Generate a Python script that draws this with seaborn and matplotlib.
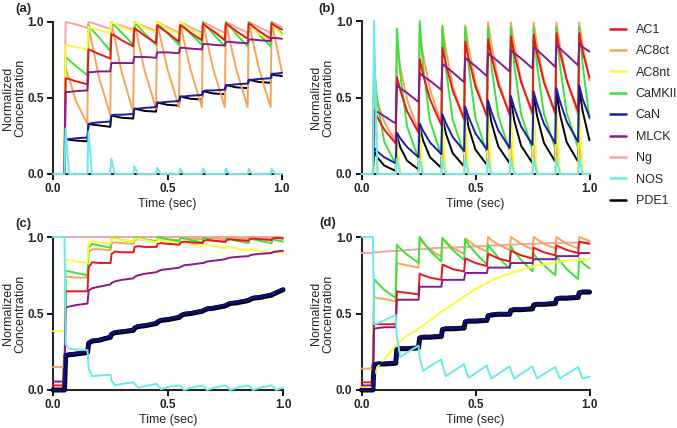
import numpy as np
import pandas as pd
import matplotlib

matplotlib.use('Agg')
import matplotlib.pyplot as plt
from matplotlib.lines import Line2D
from matplotlib.ticker import FormatStrFormatter
import seaborn as sns

# stimulus pulses (sec)
pulse_times = [0.05, 0.15, 0.25, 0.35, 0.45, 0.55, 0.65, 0.75, 0.85, 0.95]
species = ['AC1', 'AC8ct', 'AC8nt', 'CaMKII', 'CaN', 'MLCK', 'Ng', 'NOS', 'PDE1']

# each series: start value, then per pulse (value just after pulse, +15 ms,
# +45 ms, value at next pulse); last pulse has no "next pulse" value
# ---- panel (a)
a_ac1 = [0.0, 0.63, 0.625, 0.61, 0.59, 0.82, 0.81, 0.79, 0.76, 0.92, 0.91, 0.88, 0.84,
         0.96, 0.945, 0.91, 0.86, 0.98, 0.96, 0.93, 0.87, 0.98, 0.965, 0.93, 0.88,
         0.99, 0.97, 0.94, 0.88, 0.99, 0.975, 0.94, 0.89, 0.99, 0.975, 0.94, 0.89,
         0.99, 0.975, 0.95]
a_ac8ct = [0.0, 0.70, 0.63, 0.48, 0.33, 0.97, 0.86, 0.64, 0.39, 1.0, 0.89, 0.67, 0.41,
           1.0, 0.89, 0.68, 0.43, 1.0, 0.89, 0.69, 0.44, 1.0, 0.89, 0.69, 0.44,
           1.0, 0.89, 0.69, 0.44, 1.0, 0.89, 0.69, 0.44, 1.0, 0.89, 0.69, 0.44,
           1.0, 0.89, 0.67]
a_ac8nt = [0.0, 0.85, 0.845, 0.835, 0.82, 0.97, 0.96, 0.945, 0.93, 1.0, 0.99, 0.965, 0.94,
           1.0, 0.99, 0.96, 0.93, 1.0, 0.985, 0.955, 0.92, 1.0, 0.985, 0.95, 0.91,
           0.99, 0.975, 0.94, 0.90, 0.99, 0.975, 0.935, 0.89, 0.98, 0.965, 0.925, 0.88,
           0.98, 0.965, 0.91]
a_camkii = [0.0, 0.77, 0.75, 0.71, 0.65, 0.98, 0.95, 0.90, 0.81, 1.0, 0.975, 0.93, 0.85,
            1.0, 0.975, 0.925, 0.85, 1.0, 0.975, 0.925, 0.85, 1.0, 0.975, 0.925, 0.85,
            1.0, 0.975, 0.92, 0.84, 1.0, 0.975, 0.92, 0.84, 1.0, 0.975, 0.92, 0.84,
            1.0, 0.975, 0.92]
a_can = [0.0, 0.23, 0.23, 0.235, 0.24, 0.33, 0.335, 0.34, 0.345, 0.385, 0.39, 0.39, 0.395,
         0.43, 0.43, 0.435, 0.44, 0.47, 0.47, 0.475, 0.48, 0.51, 0.51, 0.515, 0.52,
         0.545, 0.55, 0.55, 0.555, 0.585, 0.585, 0.59, 0.595, 0.62, 0.62, 0.625, 0.63,
         0.66, 0.66, 0.665]
a_mlck = [0.0, 0.54, 0.54, 0.545, 0.55, 0.67, 0.67, 0.675, 0.675, 0.73, 0.73, 0.73, 0.73,
          0.77, 0.77, 0.77, 0.765, 0.80, 0.80, 0.80, 0.795, 0.83, 0.83, 0.825, 0.82,
          0.855, 0.855, 0.85, 0.845, 0.87, 0.87, 0.865, 0.86, 0.885, 0.885, 0.88, 0.875,
          0.895, 0.895, 0.89]
a_ng = [0.0, 1.0, 0.995, 0.985, 0.96, 1.0, 0.995, 0.98, 0.955, 1.0, 0.99, 0.975, 0.95,
        1.0, 0.99, 0.97, 0.94, 1.0, 0.99, 0.965, 0.93, 1.0, 0.99, 0.965, 0.93,
        1.0, 0.99, 0.965, 0.93, 1.0, 0.99, 0.965, 0.93, 1.0, 0.99, 0.965, 0.93,
        1.0, 0.99, 0.965]
a_nos = [0.0, 0.30, 0.0, 0.0, 0.0, 0.28, 0.0, 0.0, 0.0, 0.10, 0.0, 0.0, 0.0,
         0.05, 0.0, 0.0, 0.0, 0.04, 0.0, 0.0, 0.0, 0.035, 0.0, 0.0, 0.0,
         0.035, 0.0, 0.0, 0.0, 0.035, 0.0, 0.0, 0.0, 0.035, 0.0, 0.0, 0.0,
         0.035, 0.0, 0.0]
a_pde1 = [0.0, 0.23, 0.225, 0.22, 0.215, 0.33, 0.325, 0.32, 0.31, 0.385, 0.38, 0.37, 0.365,
          0.43, 0.425, 0.415, 0.41, 0.47, 0.465, 0.455, 0.45, 0.51, 0.505, 0.495, 0.49,
          0.545, 0.54, 0.53, 0.525, 0.585, 0.58, 0.57, 0.565, 0.62, 0.615, 0.605, 0.60,
          0.655, 0.65, 0.645]

# ---- panel (b)
b_ac1 = [0.0, 0.42, 0.37, 0.29, 0.20, 0.635, 0.55, 0.41, 0.27, 0.75, 0.65, 0.49, 0.32,
         0.825, 0.72, 0.545, 0.36, 0.865, 0.755, 0.57, 0.38, 0.88, 0.77, 0.585, 0.39,
         0.90, 0.785, 0.60, 0.40, 0.91, 0.79, 0.60, 0.40, 0.92, 0.80, 0.615, 0.41,
         0.92, 0.80, 0.63]
b_ac8ct = [0.0, 0.56, 0.475, 0.34, 0.21, 0.84, 0.70, 0.485, 0.28, 0.93, 0.78, 0.555, 0.33,
           0.96, 0.81, 0.58, 0.35, 0.97, 0.825, 0.60, 0.37, 0.99, 0.845, 0.615, 0.38,
           0.99, 0.845, 0.615, 0.38, 0.99, 0.845, 0.615, 0.38, 0.99, 0.845, 0.615, 0.38,
           0.99, 0.845, 0.61]
b_ac8nt = [0.0, 0.08, 0.0, 0.0, 0.0, 0.24, 0.0, 0.0, 0.0, 0.30, 0.0, 0.0, 0.0,
           0.36, 0.0, 0.0, 0.0, 0.40, 0.0, 0.0, 0.0, 0.42, 0.0, 0.0, 0.0,
           0.43, 0.0, 0.0, 0.0, 0.44, 0.0, 0.0, 0.0, 0.45, 0.0, 0.0, 0.0,
           0.45, 0.0, 0.0]
b_camkii = [0.0, 0.70, 0.47, 0.21, 0.065, 0.95, 0.65, 0.31, 0.10, 1.0, 0.70, 0.35, 0.12,
            0.97, 0.69, 0.355, 0.13, 0.96, 0.70, 0.365, 0.14, 0.96, 0.705, 0.38, 0.15,
            0.96, 0.71, 0.39, 0.16, 0.96, 0.71, 0.395, 0.165, 0.96, 0.715, 0.40, 0.17,
            0.96, 0.715, 0.36]
b_can = [0.0, 0.17, 0.147, 0.109, 0.07, 0.27, 0.233, 0.176, 0.11, 0.33, 0.283, 0.207, 0.13,
         0.39, 0.333, 0.242, 0.15, 0.44, 0.372, 0.265, 0.16, 0.48, 0.404, 0.286, 0.17,
         0.51, 0.433, 0.311, 0.19, 0.54, 0.458, 0.329, 0.20, 0.56, 0.476, 0.343, 0.21,
         0.58, 0.49, 0.37]
b_mlck = [0.0, 0.42, 0.405, 0.378, 0.33, 0.58, 0.56, 0.53, 0.47, 0.66, 0.64, 0.61, 0.55,
          0.72, 0.70, 0.665, 0.60, 0.76, 0.74, 0.705, 0.64, 0.79, 0.77, 0.735, 0.67,
          0.81, 0.79, 0.755, 0.69, 0.83, 0.81, 0.77, 0.70, 0.84, 0.82, 0.78, 0.71,
          0.85, 0.83, 0.80]
b_ng = [0.0, 0.78, 0.0, 0.0, 0.0, 0.20, 0.0, 0.0, 0.0, 0.20, 0.0, 0.0, 0.0,
        0.20, 0.0, 0.0, 0.0, 0.20, 0.0, 0.0, 0.0, 0.20, 0.0, 0.0, 0.0,
        0.20, 0.0, 0.0, 0.0, 0.20, 0.0, 0.0, 0.0, 0.20, 0.0, 0.0, 0.0,
        0.20, 0.0, 0.0]
b_nos = [0.0, 1.0, 0.0, 0.0, 0.0, 0.10, 0.0, 0.0, 0.0, 0.10, 0.0, 0.0, 0.0,
         0.10, 0.0, 0.0, 0.0, 0.10, 0.0, 0.0, 0.0, 0.10, 0.0, 0.0, 0.0,
         0.10, 0.0, 0.0, 0.0, 0.10, 0.0, 0.0, 0.0, 0.10, 0.0, 0.0, 0.0,
         0.10, 0.0, 0.0]
b_pde1 = [0.0, 0.15, 0.107, 0.055, 0.02, 0.25, 0.175, 0.087, 0.03, 0.31, 0.22, 0.111, 0.04,
          0.37, 0.265, 0.136, 0.05, 0.42, 0.304, 0.159, 0.06, 0.46, 0.336, 0.18, 0.07,
          0.49, 0.35, 0.185, 0.07, 0.52, 0.38, 0.204, 0.08, 0.54, 0.393, 0.208, 0.08,
          0.56, 0.41, 0.22]

# ---- panel (c)
c_ac1 = [0.03, 0.645, 0.645, 0.645, 0.645, 0.80, 0.835, 0.83, 0.83, 0.89, 0.905, 0.90, 0.90,
         0.935, 0.94, 0.935, 0.935, 0.955, 0.96, 0.955, 0.95, 0.965, 0.97, 0.965, 0.96,
         0.975, 0.98, 0.975, 0.97, 0.98, 0.985, 0.98, 0.975, 0.985, 0.99, 0.985, 0.98,
         0.99, 0.995, 0.99]
c_ac8ct = [0.15, 0.74, 0.74, 0.735, 0.735, 0.90, 0.92, 0.92, 0.915, 0.96, 0.965, 0.96, 0.955,
           0.98, 0.985, 0.98, 0.975, 0.99, 0.99, 0.985, 0.98, 0.995, 0.995, 0.99, 0.985,
           0.995, 0.995, 0.99, 0.985, 1.0, 0.995, 0.99, 0.985, 1.0, 0.995, 0.99, 0.985,
           1.0, 0.995, 0.99]
c_ac8nt = [0.385, 0.85, 0.85, 0.84, 0.83, 0.96, 0.975, 0.965, 0.955, 0.99, 0.99, 0.98, 0.97,
           0.99, 0.99, 0.98, 0.965, 0.985, 0.98, 0.97, 0.955, 0.97, 0.965, 0.955, 0.94,
           0.955, 0.95, 0.94, 0.925, 0.94, 0.935, 0.925, 0.91, 0.925, 0.92, 0.91, 0.895,
           0.91, 0.905, 0.895]
c_camkii = [0.0, 0.78, 0.775, 0.765, 0.75, 0.93, 0.955, 0.945, 0.93, 0.99, 0.995, 0.98, 0.97,
            1.0, 0.995, 0.985, 0.97, 1.0, 0.995, 0.985, 0.97, 0.995, 0.99, 0.98, 0.965,
            0.995, 0.99, 0.975, 0.965, 0.99, 0.985, 0.975, 0.96, 0.99, 0.985, 0.975, 0.96,
            0.985, 0.98, 0.97]
c_can = [0.0, 0.23, 0.235, 0.24, 0.25, 0.31, 0.325, 0.33, 0.35, 0.37, 0.38, 0.385, 0.395,
         0.41, 0.42, 0.425, 0.44, 0.45, 0.46, 0.465, 0.48, 0.49, 0.50, 0.505, 0.52,
         0.525, 0.535, 0.54, 0.555, 0.56, 0.57, 0.575, 0.59, 0.595, 0.605, 0.61, 0.625,
         0.63, 0.64, 0.66]
c_mlck = [0.055, 0.54, 0.545, 0.555, 0.565, 0.65, 0.665, 0.675, 0.69, 0.70, 0.71, 0.72, 0.73,
          0.74, 0.75, 0.76, 0.77, 0.775, 0.785, 0.79, 0.80, 0.805, 0.815, 0.82, 0.83,
          0.83, 0.84, 0.845, 0.855, 0.86, 0.865, 0.87, 0.875, 0.88, 0.885, 0.89, 0.895,
          0.90, 0.905, 0.91]
c_ng = [1.0, 1.0, 1.0, 1.0, 1.0, 1.0, 1.0, 1.0, 1.0, 1.0, 1.0, 1.0, 1.0,
        1.0, 1.0, 1.0, 1.0, 1.0, 1.0, 1.0, 1.0, 1.0, 1.0, 1.0, 1.0,
        1.0, 1.0, 1.0, 1.0, 1.0, 1.0, 1.0, 1.0, 1.0, 1.0, 1.0, 1.0,
        1.0, 1.0, 1.0]
c_nos = [1.0, 0.30, 0.27, 0.265, 0.26, 0.14, 0.09, 0.095, 0.10, 0.06, 0.03, 0.04, 0.05,
         0.04, 0.015, 0.025, 0.04, 0.03, 0.005, 0.02, 0.03, 0.025, 0.0, 0.015, 0.03,
         0.025, 0.0, 0.015, 0.03, 0.025, 0.0, 0.015, 0.03, 0.025, 0.0, 0.015, 0.03,
         0.025, 0.0, 0.015]
c_pde1 = [0.0, 0.225, 0.23, 0.235, 0.245, 0.305, 0.32, 0.325, 0.345, 0.365, 0.375, 0.38, 0.39,
          0.405, 0.415, 0.42, 0.435, 0.445, 0.455, 0.46, 0.475, 0.485, 0.495, 0.50, 0.515,
          0.52, 0.53, 0.535, 0.55, 0.555, 0.565, 0.57, 0.585, 0.59, 0.60, 0.605, 0.62,
          0.625, 0.635, 0.655]

# ---- panel (d)
d_ac1 = [0.05, 0.43, 0.43, 0.43, 0.43, 0.645, 0.64, 0.635, 0.625, 0.76, 0.75, 0.735, 0.72,
         0.82, 0.81, 0.79, 0.775, 0.86, 0.85, 0.83, 0.81, 0.89, 0.88, 0.86, 0.84,
         0.91, 0.90, 0.88, 0.86, 0.93, 0.92, 0.90, 0.88, 0.945, 0.935, 0.915, 0.895,
         0.97, 0.965, 0.955]
d_ac8ct = [0.14, 0.61, 0.60, 0.595, 0.58, 0.83, 0.825, 0.815, 0.80, 0.98, 0.96, 0.92, 0.87,
           0.99, 0.97, 0.93, 0.89, 0.99, 0.975, 0.94, 0.905, 1.0, 0.98, 0.95, 0.915,
           1.0, 0.985, 0.955, 0.92, 1.0, 0.985, 0.955, 0.925, 1.0, 0.985, 0.955, 0.925,
           1.0, 0.99, 0.975]
d_ac8nt = [0.02, 0.10, 0.15, 0.20, 0.29, 0.30, 0.32, 0.355, 0.40, 0.405, 0.42, 0.455, 0.51,
           0.515, 0.53, 0.56, 0.61, 0.615, 0.63, 0.66, 0.70, 0.705, 0.715, 0.735, 0.76,
           0.765, 0.77, 0.785, 0.805, 0.81, 0.815, 0.82, 0.835, 0.835, 0.84, 0.845, 0.85,
           0.85, 0.852, 0.855]
d_camkii = [0.0, 0.725, 0.70, 0.655, 0.60, 0.95, 0.925, 0.885, 0.83, 1.0, 0.97, 0.91, 0.84,
            0.995, 0.965, 0.915, 0.85, 0.985, 0.95, 0.895, 0.82, 0.95, 0.92, 0.865, 0.795,
            0.94, 0.905, 0.85, 0.775, 0.89, 0.86, 0.815, 0.75, 0.875, 0.845, 0.79, 0.725,
            0.86, 0.83, 0.795]
d_can = [0.0, 0.17, 0.175, 0.175, 0.18, 0.27, 0.275, 0.275, 0.28, 0.345, 0.35, 0.35, 0.355,
         0.40, 0.405, 0.405, 0.41, 0.45, 0.455, 0.455, 0.46, 0.49, 0.495, 0.50, 0.50,
         0.525, 0.53, 0.53, 0.535, 0.56, 0.565, 0.565, 0.57, 0.60, 0.605, 0.605, 0.61,
         0.64, 0.645, 0.645]
d_mlck = [0.03, 0.40, 0.405, 0.41, 0.41, 0.59, 0.59, 0.59, 0.59, 0.675, 0.675, 0.675, 0.675,
          0.72, 0.72, 0.72, 0.72, 0.765, 0.765, 0.765, 0.765, 0.80, 0.80, 0.80, 0.80,
          0.83, 0.83, 0.83, 0.83, 0.855, 0.855, 0.855, 0.855, 0.875, 0.875, 0.875, 0.875,
          0.895, 0.895, 0.895]
d_ng = [0.895, 0.90, 0.90, 0.905, 0.91, 0.91, 0.91, 0.915, 0.92, 0.92, 0.92, 0.925, 0.93,
        0.93, 0.93, 0.93, 0.935, 0.935, 0.935, 0.94, 0.94, 0.94, 0.945, 0.945, 0.95,
        0.95, 0.95, 0.955, 0.955, 0.955, 0.955, 0.96, 0.96, 0.96, 0.96, 0.963, 0.963,
        0.963, 0.965, 0.965]
d_nos = [1.0, 0.43, 0.435, 0.455, 0.49, 0.35, 0.215, 0.245, 0.29, 0.22, 0.125, 0.155, 0.20,
         0.16, 0.09, 0.12, 0.17, 0.14, 0.08, 0.11, 0.16, 0.13, 0.075, 0.105, 0.155,
         0.13, 0.075, 0.105, 0.155, 0.13, 0.075, 0.105, 0.15, 0.13, 0.075, 0.105, 0.15,
         0.13, 0.075, 0.087]
d_pde1 = [0.0, 0.165, 0.17, 0.17, 0.175, 0.265, 0.27, 0.27, 0.275, 0.34, 0.345, 0.345, 0.35,
          0.395, 0.40, 0.40, 0.405, 0.445, 0.45, 0.45, 0.455, 0.485, 0.49, 0.495, 0.495,
          0.52, 0.525, 0.525, 0.53, 0.555, 0.56, 0.56, 0.565, 0.595, 0.60, 0.60, 0.605,
          0.635, 0.64, 0.64]

colors = {'AC1': '#e8171c', 'AC8ct': '#f5a45a', 'AC8nt': '#fbfb3c', 'CaMKII': '#3ee03e',
          'CaN': '#1c1ca6', 'MLCK': '#8a1a8a', 'Ng': '#f4a3a3', 'NOS': '#6aeaea',
          'PDE1': '#000000'}
draw_order = ['Ng', 'PDE1', 'AC8ct', 'CaMKII', 'AC8nt', 'AC1', 'MLCK', 'CaN', 'NOS']

panels = {
    'a': dict(zip(species, [a_ac1, a_ac8ct, a_ac8nt, a_camkii, a_can, a_mlck, a_ng, a_nos, a_pde1])),
    'b': dict(zip(species, [b_ac1, b_ac8ct, b_ac8nt, b_camkii, b_can, b_mlck, b_ng, b_nos, b_pde1])),
    'c': dict(zip(species, [c_ac1, c_ac8ct, c_ac8nt, c_camkii, c_can, c_mlck, c_ng, c_nos, c_pde1])),
    'd': dict(zip(species, [d_ac1, d_ac8ct, d_ac8nt, d_camkii, d_can, d_mlck, d_ng, d_nos, d_pde1])),
}

# time points that go with the value lists
times = [0.0]
for p in pulse_times:
    times += [p, p + 0.005, p + 0.02, p + 0.05]

rows = []
for key, series in panels.items():
    for name, vals in series.items():
        full = [vals[0]] + list(vals)
        for t, v in zip(times, full):
            rows.append((key, name, t, v))
df = pd.DataFrame(rows, columns=['panel', 'species', 'time', 'value'])

sns.set_style('ticks')
plt.rcParams['font.family'] = ['Liberation Sans', 'DejaVu Sans']

fig = plt.figure(figsize=(6.77, 4.28), dpi=100)
W, H = 677.0, 428.0
boxes = {
    'a': [53 / W, 1 - 174 / H, 229 / W, 152 / H],
    'b': [361.5 / W, 1 - 174 / H, 228 / W, 153 / H],
    'c': [53 / W, 1 - 390 / H, 230 / W, 153 / H],
    'd': [361.5 / W, 1 - 390 / H, 228 / W, 153 / H],
}
letters = {'a': (23, 9), 'b': (327, 9), 'c': (23, 224), 'd': (328, 223)}
# right edge of the two-line y label, in pixels
ylabel_right = {'a': 26, 'b': 334, 'c': 26, 'd': 334}

for key in ['a', 'b', 'c', 'd']:
    ax = fig.add_axes(boxes[key])
    sub = df[df['panel'] == key]
    thick = key in ('c', 'd')
    for name in draw_order:
        d = sub[sub['species'] == name]
        lw = 1.4
        color = colors[name]
        if thick and name == 'PDE1':
            lw = 3.6
        elif thick and name == 'CaN':
            lw = 2.2
            color = '#0c0c72'
        sns.lineplot(data=d, x='time', y='value', color=color, lw=lw, ax=ax,
                     estimator=None, sort=False, legend=False, clip_on=False)
    ax.set_xlim(0, 1.0)
    ax.set_ylim(0, 1.0)
    ax.set_xticks([0, 0.5, 1.0])
    ax.set_yticks([0, 0.5, 1.0])
    ax.xaxis.set_major_formatter(FormatStrFormatter('%.1f'))
    ax.yaxis.set_major_formatter(FormatStrFormatter('%.1f'))
    ax.tick_params(width=1.3, length=4, labelsize=8.5, pad=2.5, color='black')
    for lab in ax.get_xticklabels() + ax.get_yticklabels():
        lab.set_fontweight('bold')
    sns.despine(ax=ax)
    for s in ['left', 'bottom']:
        ax.spines[s].set_linewidth(1.5)
        ax.spines[s].set_zorder(1)
    ax.set_xlabel('Time (sec)', fontsize=9, labelpad=2)
    ax.set_ylabel('Normalized\nConcentration', fontsize=9, linespacing=1.0)
    x0 = boxes[key][0] * W
    ax.yaxis.set_label_coords((ylabel_right[key] - x0) / (boxes[key][2] * W), 0.5)
    lx, ly = letters[key]
    fig.text(lx / W, 1 - ly / H, '(%s)' % key, fontsize=9.5, fontweight='bold',
             ha='center', va='center')

handles = [Line2D([0], [0], color=colors[n], lw=1.8) for n in species]
fig.legend(handles, species, loc='upper left', bbox_to_anchor=(610 / W, 1 - 24 / H),
           frameon=False, fontsize=9, handlelength=1.3, handletextpad=0.75,
           labelspacing=0.75, borderpad=0, borderaxespad=0)

fig.savefig('out.png', dpi=100)
plt.close(fig)
